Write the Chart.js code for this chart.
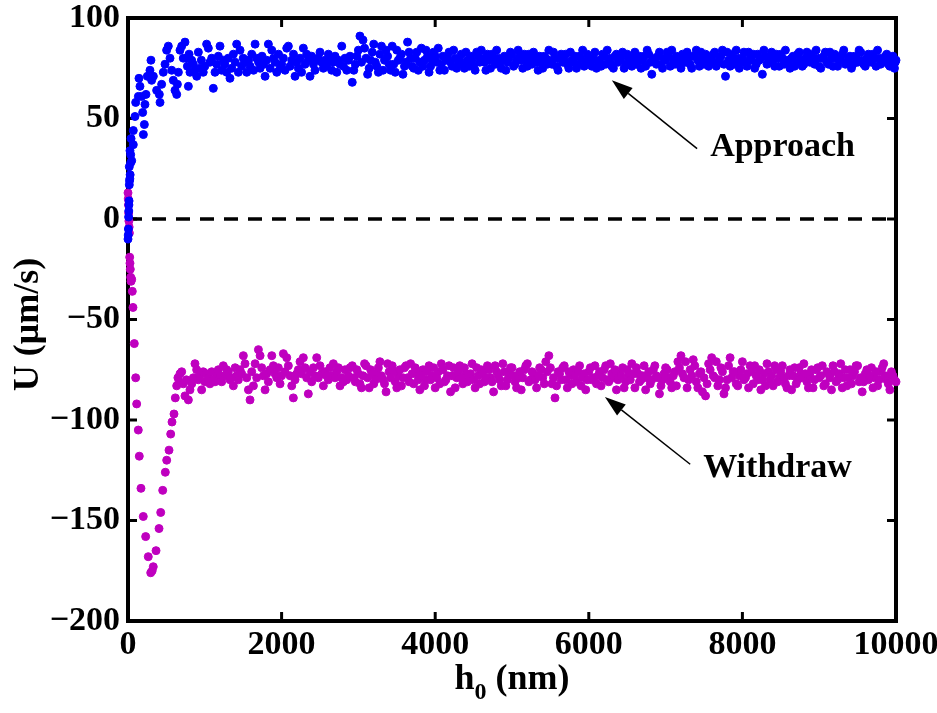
<!DOCTYPE html>
<html>
<head>
<meta charset="utf-8">
<script src="https://cdn.jsdelivr.net/npm/chart.js@4.4.1/dist/chart.umd.min.js"></script>
<style>
  html, body { margin: 0; padding: 0; background: #fff; }
  #wrap { width: 937px; height: 713px; }
</style>
</head>
<body>
<div id="wrap"><canvas id="velocityChart" width="937" height="713"></canvas></div>
<script>
// U (um/s) against gap h0 (nm), values as [h0, U]
const approach = [
  [0,-10],[3,-8],[5,-5],[8,1],[10,4],[12,7],[14,9],[17,17],[20,19],[24,20],[28,22],[17,26],[35,28],[48,29],
  [35,32],[26,34],[40,40],[69,37],[69,44],[91,51],[100,58],[135,61],[143,70],[156,66],[178,61],[191,53],
  [200,42],[213,47],[221,57],[234,62],[252,71],[286,74],[299,79],[308,69],[330,71],[373,64],[408,62],[417,58],
  [438,67],[460,73],[482,77],[503,84],[525,86],[547,80],[569,74],[590,69],[612,64],[634,62],[643,67],[656,73],
  [677,84],[699,86],[720,80],[742,88],
  [760,80],[773,76],[786,66],[795,82],[807,73],[829,79],[850,77],[872,74],[895,71],[916,83],[937,75],[955,79],
  [980,73],[1000,76],[1024,87],[1046,85],[1067,78],[1090,80],[1111,65],[1133,73],[1155,77],[1176,81],[1198,86],
  [1220,74],[1241,79],[1260,77],[1285,73],[1305,80],[1328,70],[1350,75],[1372,82],[1395,78],[1415,87],[1437,73],
  [1459,84],[1480,76],[1500,80],[1520,78],[1546,73],[1570,79],[1590,76],[1611,82],[1635,74],[1655,87],[1676,80],
  [1700,78],[1720,75],[1745,81],[1765,77],[1785,71],[1805,79],[1828,87],[1850,75],[1872,84],[1895,80],[1915,78],
  [1937,73],[1960,82],[1980,75],[2000,77],[2023,80],[2045,74],[2067,85],[2088,86],[2110,76],[2132,79],[2155,82],
  [2175,71],[2197,78],[2218,75],[2240,80],[2260,73],[2283,85],[2305,77],[2327,82],[2348,79],[2370,71],[2392,81],
  [2414,77],[2435,74],[2457,79],[2479,80],[2500,83],[2522,78],[2544,75],[2565,79],[2587,76],[2609,82],[2630,79],
  [2652,74],[2674,78],[2696,81],[2718,73],[2740,79],[2761,77],[2783,86],[2805,76],[2826,80],[2848,74],[2870,79],
  [2891,81],[2920,68],[2960,77],[3000,84],[3020,91],[3060,89],[3100,80],[3140,75],[3180,83],[3220,78],[3260,73],
  [3300,86],[3340,79],[3380,81],[3420,74],[3460,77],[3500,84],[3540,80],[3580,72],[3620,78],[3660,83],[3700,76],
  [3740,80],[3780,74],[3820,85],[3860,79],[3900,81],[3940,76],[3980,83],[4020,78],[4060,74],[4100,81],[4140,79],
  [4180,83],[4220,76],[4260,80],[4300,77],[4340,82],[4380,75],[4420,79],[4460,81],[4500,76],[4540,83],[4580,78],
  [4620,80],[4660,74],[4700,79],[4740,82],[4780,77],[4820,80],[4860,75],[4900,81],[4940,78],[4980,83],[5020,76],
  [5060,79],[5100,81],[5140,75],[5180,79],[5220,82],[5260,77],[5300,80],[5340,74],[5380,78],[5420,81],[5460,77],
  [5500,79],[5540,83],[5580,76],[5620,80],[5660,78],[5700,82],[5740,75],[5780,79],[5820,81],[5860,77],[5900,80],
  [5940,76],[5980,82],[6020,78],[6060,80],[6100,75],[6140,79],[6180,82],[6220,77],[6260,80],[6300,76],[6340,81],
  [6380,78],[6420,80],[6460,75],[6500,82],[6540,78],[6580,80],[6620,77],[6660,81],[6700,79],[6740,76],[6780,82],
  [6820,72],[6860,79],[6900,81],[6940,77],[6980,80],[7020,83],[7060,76],[7100,79],[7140,81],[7180,77],[7220,82],
  [7260,78],[7300,80],[7340,75],[7380,81],[7420,79],[7460,83],[7500,77],[7540,80],[7580,78],[7620,82],[7660,76],
  [7700,80],[7740,84],[7780,71],[7820,79],[7860,82],[7900,77],[7940,80],[7980,78],[8020,83],[8060,76],[8100,80],
  [8140,82],[8180,77],[8220,79],[8260,72],[8300,81],[8340,78],[8380,83],[8420,76],[8460,80],[8500,82],[8540,77],
  [8580,79],[8620,75],[8660,81],[8700,78],[8740,83],[8780,76],[8820,80],[8860,79],[8900,82],[8940,77],[8980,80],
  [9020,75],[9060,81],[9100,78],[9140,83],[9180,76],[9220,80],[9260,79],[9300,82],[9340,77],[9380,80],[9420,75],
  [9460,81],[9500,78],[9540,83],[9580,77],[9620,80],[9660,79],[9700,82],[9740,76],[9780,80],[9820,78],[9860,81],
  [9900,77],[9940,80],[9980,75],[10000,79]
];

// in-between readings of the approach plateau
const approachLate = [
  [2940,74],[2980,81],[3040,78],[3080,85],[3120,72],[3160,79],[3200,87],[3240,76],[3280,82],[3320,74],[3360,84],
  [3400,77],[3440,86],[3480,73],[3520,79],[3560,82],[3600,76],[3640,88],[3680,80],[3720,75],[3760,83],[3800,78],
  [3840,76],[3880,84],[3920,73],[3960,79],[4000,81],[4040,85],[4080,77],[4120,74],[4160,80],[4200,78],[4240,84],
  [4280,75],[4320,79],[4360,77],[4400,83],[4440,76],[4480,79],[4520,74],[4560,81],[4600,84],[4640,78],[4680,82],
  [4720,75],[4760,80],[4800,84],[4840,77],[4880,79],[4920,74],[4960,80],[5000,82],[5040,77],[5080,84],[5120,79],
  [5160,82],[5200,76],[5240,80],[5280,83],[5320,78],[5360,81],[5400,75],[5440,80],[5480,84],[5520,77],[5560,80],
  [5600,74],[5640,82],[5680,79],[5720,77],[5760,83],[5800,78],[5840,75],[5880,81],[5920,84],[5960,78],[6000,80],
  [6040,76],[6080,83],[6120,78],[6160,76],[6200,81],[6240,84],[6280,78],[6320,75],[6360,82],[6400,79],[6440,83],
  [6480,77],[6520,80],[6560,76],[6600,83],[6640,79],[6680,75],[6720,81],[6760,84],[6800,78],[6840,80],[6880,77],
  [6920,83],[6960,75],[7000,79],[7040,81],[7080,84],[7120,77],[7160,80],[7200,75],[7240,79],[7280,83],[7320,77],
  [7360,81],[7400,84],[7440,76],[7480,80],[7520,82],[7560,76],[7600,79],[7640,83],[7680,78],[7720,81],[7760,77],
  [7800,83],[7840,76],[7880,80],[7920,84],[7960,75],[8000,80],[8040,78],[8080,83],[8120,79],[8160,75],[8200,82],
  [8240,80],[8280,84],[8320,77],[8360,80],[8400,79],[8440,82],[8480,76],[8520,80],[8560,84],[8600,78],[8640,80],
  [8680,76],[8720,82],[8760,79],[8800,77],[8840,83],[8880,78],[8920,80],[8960,84],[9000,76],[9040,80],[9080,83],
  [9120,77],[9160,80],[9200,82],[9240,76],[9280,79],[9320,84],[9360,78],[9400,81],[9440,77],[9480,80],[9520,84],
  [9560,79],[9600,76],[9640,82],[9680,78],[9720,80],[9760,84],[9800,77],[9840,79],[9880,82],[9920,76],[9960,81],
  [9990,78]
];

const withdraw = [
  [0,13],[3,10],[6,7],[9,3],[12,-1],[15,-4],[18,-7],[22,-19],[26,-22],[30,-25],[35,-29],[40,-31],[48,-30],
  [56,-36],[65,-44],[82,-62],[100,-79],[113,-92],[134,-105],[147,-118],[169,-134],[199,-148],[230,-158],
  [264,-168],[296,-176],[315,-175],[329,-173],[365,-165],[404,-154],[426,-146],[452,-135],[486,-126],[504,-120],
  [534,-115],[556,-107],[573,-101],[599,-97],[616,-89],[634,-83],[650,-79],[665,-81],[677,-77],[699,-76],
  [720,-82],[742,-88],[760,-80],[786,-90],[807,-85],[830,-82],[851,-79],[872,-72],[894,-75],[915,-80],[937,-78],
  [959,-85],[980,-76],[1002,-81],[1024,-77],[1045,-79],[1067,-82],[1090,-76],[1111,-80],[1133,-81],[1155,-77],
  [1176,-75],[1198,-78],[1220,-81],[1241,-73],[1263,-78],[1285,-75],[1306,-76],[1328,-80],[1350,-79],[1372,-83],
  [1395,-74],[1415,-78],[1437,-80],[1459,-75],[1480,-77],[1502,-68],[1524,-72],[1546,-79],[1568,-85],[1589,-90],
  [1611,-76],[1633,-83],[1655,-72],[1676,-79],[1698,-65],[1720,-68],[1741,-74],[1763,-78],[1785,-85],[1806,-77],
  [1828,-81],[1850,-75],[1872,-68],[1893,-73],[1915,-77],[1937,-79],[1958,-74],[1980,-82],[2000,-78],[2023,-67],
  [2045,-76],[2067,-69],[2088,-73],[2110,-78],[2132,-83],[2153,-89],[2175,-80],[2197,-77],[2218,-75],[2240,-71],
  [2262,-77],[2283,-69],[2305,-74],[2327,-79],[2348,-87],[2370,-76],[2392,-81],[2414,-74],[2435,-78],[2457,-69],
  [2479,-79],[2500,-73],[2522,-77],[2544,-83],[2565,-76],[2587,-78],[2609,-80],[2630,-74],[2652,-78],[2674,-72],
  [2696,-79],[2718,-76],[2740,-74],[2761,-83],[2783,-79],[2805,-81],[2826,-75],[2848,-80],[2870,-78],[2891,-74],
  [2920,-73],[2960,-81],[3000,-77],[3040,-84],[3080,-72],[3120,-79],[3160,-75],[3200,-82],[3240,-77],[3280,-71],
  [3320,-80],[3360,-86],[3400,-76],[3440,-73],[3480,-81],[3520,-78],[3560,-83],[3600,-74],[3640,-79],[3680,-72],
  [3720,-82],[3760,-77],[3800,-85],[3840,-75],[3880,-80],[3920,-73],[3960,-78],[4000,-84],[4040,-76],[4080,-72],
  [4120,-81],[4160,-78],[4200,-86],[4240,-74],[4280,-79],[4320,-73],[4360,-82],[4400,-77],[4440,-80],[4480,-72],
  [4520,-84],[4560,-78],[4600,-75],[4640,-81],[4680,-73],[4720,-79],[4760,-86],[4800,-76],[4840,-80],[4880,-72],
  [4920,-83],[4960,-77],[5000,-74],[5040,-81],[5080,-79],[5120,-85],[5160,-75],[5200,-72],[5240,-80],[5280,-77],
  [5320,-84],[5360,-74],[5400,-79],[5440,-71],[5480,-68],[5520,-82],[5560,-89],[5600,-76],[5640,-80],[5680,-73],
  [5720,-84],[5760,-78],[5800,-75],[5840,-81],[5880,-73],[5920,-79],[5960,-85],[6000,-76],[6040,-80],[6080,-73],
  [6120,-78],[6160,-83],[6200,-75],[6240,-80],[6280,-72],[6320,-79],[6360,-85],[6400,-77],[6440,-74],[6480,-81],
  [6520,-78],[6560,-72],[6600,-84],[6640,-77],[6680,-80],[6720,-73],[6760,-79],[6800,-82],[6840,-75],[6880,-78],
  [6920,-87],[6960,-80],[7000,-74],[7040,-79],[7080,-84],[7120,-76],[7160,-71],[7200,-68],[7240,-79],[7280,-84],
  [7320,-75],[7360,-70],[7400,-81],[7440,-77],[7480,-86],[7520,-88],[7560,-72],[7600,-69],[7640,-79],[7680,-83],
  [7720,-74],[7760,-87],[7800,-80],[7840,-69],[7880,-76],[7920,-82],[7960,-78],[8000,-71],[8040,-79],[8080,-84],
  [8120,-76],[8160,-73],[8200,-80],[8240,-85],[8280,-77],[8320,-72],[8360,-80],[8400,-83],[8440,-75],[8480,-79],
  [8520,-73],[8560,-82],[8600,-78],[8640,-85],[8680,-74],[8720,-80],[8760,-77],[8800,-72],[8840,-81],[8880,-78],
  [8920,-84],[8960,-75],[9000,-79],[9040,-73],[9080,-82],[9120,-77],[9160,-85],[9200,-76],[9240,-80],[9280,-72],
  [9320,-79],[9360,-83],[9400,-75],[9440,-78],[9480,-73],[9520,-81],[9560,-86],[9600,-77],[9640,-80],[9680,-74],
  [9720,-79],[9760,-83],[9800,-76],[9840,-72],[9880,-80],[9920,-85],[9960,-78],[10000,-81]
];

// in-between readings of the withdraw plateau
const withdrawLate = [
  [2940,-79],[2980,-75],[3020,-82],[3060,-78],[3100,-73],[3140,-84],[3180,-77],[3220,-80],[3260,-74],[3300,-78],
  [3340,-82],[3380,-72],[3420,-79],[3460,-76],[3500,-84],[3540,-75],[3580,-79],[3620,-73],[3660,-81],[3700,-77],
  [3740,-74],[3780,-80],[3820,-78],[3860,-83],[3900,-76],[3940,-80],[3980,-74],[4020,-79],[4060,-82],[4100,-75],
  [4140,-80],[4180,-73],[4220,-78],[4260,-84],[4300,-76],[4340,-79],[4380,-74],[4420,-81],[4460,-77],[4500,-80],
  [4540,-74],[4580,-82],[4620,-77],[4660,-79],[4700,-75],[4740,-81],[4780,-73],[4820,-78],[4860,-83],[4900,-76],
  [4940,-80],[4980,-74],[5020,-78],[5060,-84],[5100,-76],[5140,-79],[5180,-73],[5220,-81],[5260,-76],[5300,-80],
  [5340,-78],[5380,-75],[5420,-82],[5460,-76],[5500,-74],[5540,-79],[5580,-83],[5620,-77],[5660,-74],[5700,-80],
  [5740,-76],[5780,-82],[5820,-78],[5860,-76],[5900,-83],[5940,-77],[5980,-80],[6020,-74],[6060,-79],[6100,-82],
  [6140,-76],[6180,-79],[6220,-73],[6260,-81],[6300,-77],[6340,-75],[6380,-80],[6420,-78],[6460,-84],[6500,-75],
  [6540,-80],[6580,-77],[6620,-74],[6660,-81],[6700,-78],[6740,-85],[6780,-76],[6820,-80],[6860,-73],[6900,-79],
  [6940,-83],[6980,-77],[7020,-75],[7060,-81],[7100,-78],[7140,-83],[7180,-74],[7220,-77],[7260,-71],[7300,-80],
  [7340,-78],[7380,-73],[7420,-84],[7460,-76],[7500,-79],[7540,-82],[7580,-75],[7620,-78],[7660,-71],[7700,-80],
  [7740,-76],[7780,-84],[7820,-73],[7860,-79],[7900,-76],[7940,-83],[7980,-75],[8020,-80],[8060,-77],[8100,-73],
  [8140,-82],[8180,-78],[8220,-75],[8260,-80],[8300,-83],[8340,-76],[8380,-78],[8420,-73],[8460,-81],[8500,-76],
  [8540,-79],[8580,-84],[8620,-75],[8660,-78],[8700,-82],[8740,-74],[8780,-79],[8820,-77],[8860,-84],[8900,-75],
  [8940,-80],[8980,-74],[9020,-78],[9060,-83],[9100,-76],[9140,-79],[9180,-73],[9220,-81],[9260,-77],[9300,-84],
  [9340,-75],[9380,-79],[9420,-82],[9460,-76],[9500,-73],[9540,-79],[9580,-81],[9620,-75],[9660,-78],[9700,-84],
  [9740,-76],[9780,-80],[9820,-74],[9860,-78],[9900,-82],[9940,-76],[9980,-80]
];

const zeroLine = [[0, 0], [10000, 0]];
const xTicks = [0, 2000, 4000, 6000, 8000, 10000];
const yTicks = [-200, -150, -100, -50, 0, 50, 100];

// arrow tip, arrow tail and text anchor in data units
const notes = [
  { text: 'Approach', tip: [6300, 69], tail: [7410, 35], at: [7580, 31.5] },
  { text: 'Withdraw', tip: [6210, -88.5], tail: [7320, -122], at: [7490, -128.5] }
];

const SERIF = '"Liberation Serif", "Times New Roman", serif';
const toXY = arr => arr.map(p => ({ x: p[0], y: p[1] }));

function line(ctx, x1, y1, x2, y2) {
  ctx.beginPath();
  ctx.moveTo(x1, y1);
  ctx.lineTo(x2, y2);
  ctx.stroke();
}

// box, inward ticks, axis titles and the two arrows
const frame = {
  id: 'frame',
  beforeDatasetsDraw(chart) {
    const { ctx, chartArea: a, scales: { x, y } } = chart;
    ctx.save();
    ctx.strokeStyle = '#000';
    ctx.lineWidth = 3;
    xTicks.forEach(v => {
      const px = x.getPixelForValue(v);
      line(ctx, px, a.bottom, px, a.bottom - 9);
      line(ctx, px, a.top, px, a.top + 9);
    });
    yTicks.forEach(v => {
      const py = y.getPixelForValue(v);
      line(ctx, a.left, py, a.left + 9, py);
      line(ctx, a.right, py, a.right - 9, py);
    });
    ctx.lineWidth = 4;
    ctx.strokeRect(a.left, a.top, a.right - a.left, a.bottom - a.top);
    ctx.restore();
  },
  afterDraw(chart) {
    const { ctx, chartArea: a, scales: { x, y } } = chart;
    ctx.save();
    ctx.fillStyle = '#000';
    ctx.strokeStyle = '#000';

    // x title: h with subscript 0
    ctx.textBaseline = 'alphabetic';
    ctx.textAlign = 'left';
    const big = 'bold 36px ' + SERIF, small = 'bold 24px ' + SERIF;
    ctx.font = big;
    const wH = ctx.measureText('h').width, wRest = ctx.measureText(' (nm)').width;
    ctx.font = small;
    const wSub = ctx.measureText('0').width;
    let tx = (a.left + a.right) / 2 - (wH + wSub + wRest) / 2;
    const base = 689;
    ctx.font = big; ctx.fillText('h', tx, base); tx += wH;
    ctx.font = small; ctx.fillText('0', tx, base + 10); tx += wSub;
    ctx.font = big; ctx.fillText(' (nm)', tx, base);

    // y title
    ctx.save();
    ctx.translate(38, (a.top + a.bottom) / 2 + 5);
    ctx.rotate(-Math.PI / 2);
    ctx.textAlign = 'center';
    ctx.font = big;
    ctx.fillText('U (\u03bcm/s)', 0, 0);
    ctx.restore();

    // annotations
    notes.forEach(n => {
      const tipX = x.getPixelForValue(n.tip[0]), tipY = y.getPixelForValue(n.tip[1]);
      const tailX = x.getPixelForValue(n.tail[0]), tailY = y.getPixelForValue(n.tail[1]);
      const ang = Math.atan2(tipY - tailY, tipX - tailX);
      const headLen = 21, headHalf = 7;
      const bx = tipX - headLen * Math.cos(ang), by = tipY - headLen * Math.sin(ang);
      ctx.lineWidth = 1.5;
      line(ctx, tailX, tailY, bx, by);
      ctx.beginPath();
      ctx.moveTo(tipX, tipY);
      ctx.lineTo(bx + headHalf * Math.sin(ang), by - headHalf * Math.cos(ang));
      ctx.lineTo(bx - headHalf * Math.sin(ang), by + headHalf * Math.cos(ang));
      ctx.closePath();
      ctx.fill();
      ctx.font = 'bold 34px ' + SERIF;
      ctx.textAlign = 'left';
      ctx.fillText(n.text, x.getPixelForValue(n.at[0]), y.getPixelForValue(n.at[1]));
    });
    ctx.restore();
  }
};

const tickFont = { family: SERIF, size: 34, weight: 'bold' };
const plain = v => String(v).replace('-', '\u2212');

new Chart(document.getElementById('velocityChart'), {
  type: 'scatter',
  data: {
    datasets: [
      {
        label: 'Approach',
        data: toXY(approach.concat(approachLate)),
        backgroundColor: '#0000ff',
        borderColor: '#0000ff',
        pointRadius: 4,
        pointBorderWidth: 1,
        clip: false,
        order: 0
      },
      {
        label: 'Withdraw',
        data: toXY(withdraw.concat(withdrawLate)),
        backgroundColor: '#bf00bf',
        borderColor: '#bf00bf',
        pointRadius: 4,
        pointBorderWidth: 1,
        clip: false,
        order: 1
      },
      {
        type: 'line',
        label: 'zero',
        data: toXY(zeroLine),
        borderColor: '#000',
        borderWidth: 3.5,
        borderDash: [14, 10],
        pointRadius: 0,
        order: 2
      }
    ]
  },
  plugins: [frame],
  options: {
    responsive: false,
    animation: false,
    devicePixelRatio: 1,
    layout: { padding: { top: 18, right: 41, left: 0, bottom: 0 } },
    plugins: { legend: { display: false }, tooltip: { enabled: false } },
    scales: {
      x: {
        type: 'linear',
        min: 0,
        max: 10000,
        afterBuildTicks: s => { s.ticks = xTicks.map(v => ({ value: v })); },
        afterFit: s => { s.height = 92; s.paddingLeft = 0; s.paddingRight = 0; },
        grid: { display: false, drawTicks: false },
        border: { display: false },
        ticks: { color: '#000', font: tickFont, padding: 4, maxRotation: 0, autoSkip: false, callback: plain },
        title: { display: false }
      },
      y: {
        type: 'linear',
        min: -200,
        max: 100,
        afterBuildTicks: s => { s.ticks = yTicks.map(v => ({ value: v })); },
        afterFit: s => { s.width = 128; s.paddingTop = 0; s.paddingBottom = 0; },
        grid: { display: false, drawTicks: false },
        border: { display: false },
        ticks: { color: '#000', font: tickFont, padding: 8, callback: plain },
        title: { display: false }
      }
    }
  }
});
</script>
</body>
</html>
